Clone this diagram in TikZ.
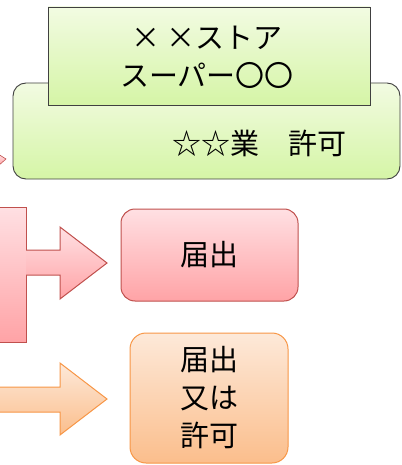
\documentclass[tikz,border=0pt]{standalone}
\usepackage{fontspec}
\newfontfamily\jp{Noto Sans CJK JP}
\definecolor{gtop}{HTML}{F2FBE2}
\definecolor{gbot}{HTML}{D5F5A6}
\definecolor{ptop}{HTML}{FFE0E3}
\definecolor{pbot}{HTML}{FFA3A6}
\definecolor{pline}{HTML}{C0504D}
\definecolor{otop}{HTML}{FDE9D9}
\definecolor{obot}{HTML}{FBBE8C}
\definecolor{oline}{HTML}{F79646}
\tikzset{
  greenbox/.style={draw=black!75, line width=0.9pt, top color=gtop, bottom color=gbot},
  pinkshape/.style={draw=pline, line width=1pt, top color=ptop, bottom color=pbot},
  orangeshape/.style={draw=oline, line width=1pt, top color=otop, bottom color=obot},
  lbl/.style={font=\jp\fontsize{29}{38}\selectfont, align=center, text=black}
}
\begin{document}
\begin{tikzpicture}[x=1pt,y=-1pt]
\useasboundingbox (0,0) rectangle (401,465);
% back green rounded box
\path[greenbox, rounded corners=13pt] (13,83) rectangle (400,179);
\node[lbl] (back) at (259,143) {☆☆業\hspace{1em}許可};
% front green box
\path[greenbox] (48,7) rectangle (370,105);
\node[lbl] (front) at (207,57) {× ×ストア\\スーパー〇〇};
% small red arrow tip at left
\path[pinkshape, line width=0.6pt] (-2,154) -- (6,159) -- (-2,166) -- cycle;
% pink left rectangle
\path[pinkshape] (-5,207) rectangle (26,342);
% pink arrow
\path[pinkshape] (26,250) -- (60,250) -- (60,227) -- (107,263) -- (60,299) -- (60,275) -- (26,275);
% pink box
\node[pinkshape, rounded corners=14pt, minimum width=177pt, minimum height=92pt, lbl] (todoke) at (209.5,255) {届出};
% orange arrow
\path[orangeshape] (-5,387) -- (60,387) -- (60,363) -- (107,399) -- (60,435) -- (60,412) -- (-5,412);
% orange box
\node[orangeshape, rounded corners=16pt, minimum width=158pt, minimum height=130pt, lbl] (kyoka) at (209,398) {届出\\又は\\許可};
\end{tikzpicture}
\end{document}
